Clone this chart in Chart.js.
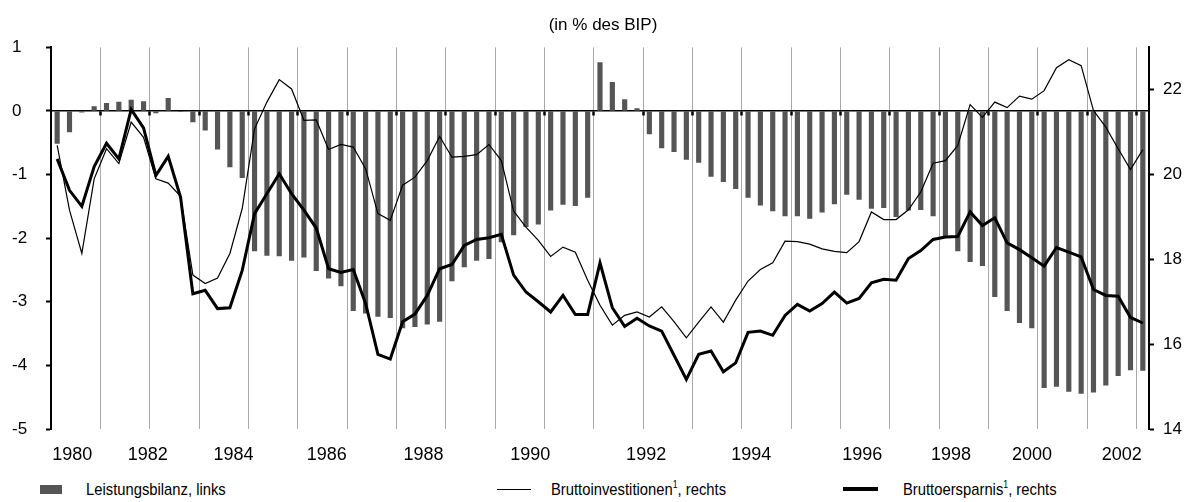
<!DOCTYPE html>
<html>
<head>
<meta charset="utf-8">
<script src="https://cdn.jsdelivr.net/npm/chart.js@4.4.1/dist/chart.umd.min.js"></script>
<style>
  body { margin: 0; background: #fff; font-family: "Liberation Sans", Arial, Helvetica, sans-serif; }
  #wrap { position: relative; width: 1194px; height: 502px; }
  #chartBilanz { position: absolute; left: 0; top: 0; }
  .lg { position: absolute; font-family: "Liberation Sans", Arial, sans-serif; font-size: 17px; color: #000; line-height: 20px; white-space: nowrap; transform: scaleX(0.87); transform-origin: left center; }
  .lg sup { font-size: 10px; line-height: 0; }
  .sw { position: absolute; }
</style>
</head>
<body>
<div id="wrap">
  <canvas id="chartBilanz" width="1194" height="470"></canvas>
  <div class="sw" style="left:40px; top:485px; width:22px; height:9px; background:#555;"></div>
  <div class="lg" style="left:86px; top:480px;">Leistungsbilanz, links</div>
  <div class="sw" style="left:497px; top:489px; width:34px; height:1.3px; background:#000;"></div>
  <div class="lg" style="left:551px; top:480px;">Bruttoinvestitionen<sup>1</sup>, rechts</div>
  <div class="sw" style="left:843px; top:487px; width:35px; height:4px; background:#000;"></div>
  <div class="lg" style="left:903px; top:480px;">Bruttoersparnis<sup>1</sup>, rechts</div>
</div>
<script>
// Quartalswerte 1980 Q1 - 2002 Q1
const startYear = 1980;

// Leistungsbilanz (% des BIP), linke Achse
const leistungsbilanz = [
  -0.51, -0.33, -0.02, 0.07,
  0.12, 0.14, 0.17, 0.15,
  -0.03, 0.20, -0.01, -0.17,
  -0.30, -0.60, -0.88, -1.05,
  -2.20, -2.27, -2.28, -2.35,
  -2.30, -2.51, -2.63, -2.75,
  -3.14, -3.18, -3.23, -3.25,
  -3.41, -3.39, -3.35, -3.31,
  -2.67, -2.45, -2.35, -2.32,
  -2.06, -1.95, -1.82, -1.78,
  -1.56, -1.47, -1.49, -1.36,
  0.76, 0.45, 0.18, 0.04,
  -0.36, -0.58, -0.64, -0.76,
  -0.81, -1.03, -1.11, -1.22,
  -1.36, -1.48, -1.57, -1.65,
  -1.65, -1.69, -1.59, -1.46,
  -1.31, -1.39, -1.53, -1.52,
  -1.66, -1.56, -1.55, -1.65,
  -1.98, -2.20, -2.37, -2.43,
  -2.92, -3.14, -3.33, -3.41,
  -4.35, -4.33, -4.41, -4.44,
  -4.42, -4.31, -4.16, -4.07,
  -4.08
];

// Bruttoinvestitionen (% des BIP), rechte Achse
const bruttoinvestitionen = [
  20.69, 19.16, 18.14, 19.90,
  20.61, 20.26, 21.24, 20.88,
  19.90, 19.80, 19.49, 17.63,
  17.43, 17.56, 18.14, 19.20,
  21.08, 21.71, 22.24, 22.02,
  21.28, 21.29, 20.59, 20.71,
  20.65, 20.14, 19.08, 18.92,
  19.75, 19.94, 20.33, 20.90,
  20.41, 20.43, 20.47, 20.71,
  20.33, 19.14, 18.76, 18.45,
  18.07, 18.29, 18.17, 17.51,
  16.92, 16.45, 16.68, 16.76,
  16.64, 16.88, 16.53, 16.15,
  16.52, 16.88, 16.52, 17.04,
  17.49, 17.76, 17.92, 18.43,
  18.42, 18.36, 18.25, 18.19,
  18.16, 18.42, 19.12, 18.94,
  18.94, 19.17, 19.59, 20.27,
  20.33, 20.69, 21.65, 21.35,
  21.71, 21.58, 21.85, 21.78,
  21.98, 22.52, 22.71, 22.57,
  21.51, 21.12, 20.61, 20.12,
  20.59
];

// Bruttoersparnis (% des BIP), rechte Achse
const bruttoersparnis = [
  20.37, 19.63, 19.25, 20.19,
  20.74, 20.37, 21.54, 21.10,
  19.98, 20.43, 19.47, 17.19,
  17.27, 16.84, 16.86, 17.74,
  19.08, 19.55, 20.02, 19.55,
  19.16, 18.74, 17.78, 17.69,
  17.76, 16.96, 15.76, 15.65,
  16.53, 16.71, 17.15, 17.78,
  17.88, 18.33, 18.47, 18.51,
  18.59, 17.63, 17.23, 17.00,
  16.76, 17.15, 16.70, 16.70,
  17.92, 16.86, 16.42, 16.61,
  16.43, 16.31, 15.74, 15.17,
  15.76, 15.84, 15.35, 15.56,
  16.28, 16.31, 16.21, 16.68,
  16.94, 16.78, 16.96, 17.23,
  16.97, 17.08, 17.45, 17.53,
  17.51, 18.02, 18.21, 18.47,
  18.53, 18.54, 19.12, 18.80,
  18.98, 18.39, 18.23, 18.04,
  17.84, 18.28, 18.17, 18.06,
  17.29, 17.15, 17.13, 16.63,
  16.50
];

// Achsenbeschriftung
const yearLabels = ['1980', '1982', '1984', '1986', '1988', '1990', '1992', '1994', '1996', '1998', '2000', '2002'];
const yearLabelPos = [1980.43, 1981.96, 1983.70, 1985.59, 1987.55, 1989.71, 1992.06, 1994.19, 1996.44, 1998.24, 1999.88, 2001.70];
const rightTicks = [14, 16, 18, 20, 22];

const gridYears = [];
for (let y = startYear + 1; y <= 2002; y++) gridYears.push(y);

function toPoints(arr) {
    return arr.map((v, i) => ({ x: startYear + (i + 0.5) / 4, y: v }));
}

const ctx = document.getElementById('chartBilanz').getContext('2d');
Chart.defaults.font.family = '"Liberation Sans", Arial, Helvetica, sans-serif';

new Chart(ctx, {
    type: 'bar',
    data: {
        datasets: [
            {
                type: 'line',
                label: 'Bruttoersparnis, rechts',
                data: toPoints(bruttoersparnis),
                yAxisID: 'y1',
                borderColor: '#000',
                borderWidth: 3,
                pointRadius: 0,
                tension: 0,
                order: 0
            },
            {
                type: 'line',
                label: 'Bruttoinvestitionen, rechts',
                data: toPoints(bruttoinvestitionen),
                yAxisID: 'y1',
                borderColor: '#000',
                borderWidth: 1.2,
                pointRadius: 0,
                tension: 0,
                order: 1
            },
            {
                label: 'Leistungsbilanz, links',
                data: toPoints(leistungsbilanz),
                yAxisID: 'y',
                backgroundColor: '#555',
                borderWidth: 0,
                barThickness: 4.5,
                order: 2
            }
        ]
    },
    options: {
        responsive: false,
        animation: false,
        devicePixelRatio: 1,
        layout: { padding: { left: 12, right: 0, top: 0, bottom: 0 } },
        plugins: {
            legend: { display: false },
            tooltip: { enabled: false },
            title: {
                display: true,
                text: '(in % des BIP)',
                color: '#000',
                font: { size: 17, weight: 'normal' },
                padding: { top: 15, bottom: 12 }
            }
        },
        scales: {
            x: {
                type: 'linear',
                position: { y: 0 },
                offset: false,
                min: startYear,
                max: 2002.25,
                afterBuildTicks: s => { s.ticks = gridYears.map(v => ({ value: v })); },
                ticks: { display: false },
                grid: { offset: false, color: '#a9a9a9', lineWidth: 1, tickLength: 4, tickColor: '#000', tickWidth: 2.5 },
                border: { display: true, color: '#000', width: 1.5 }
            },
            xLabels: {
                type: 'linear',
                position: 'bottom',
                offset: false,
                min: startYear,
                max: 2002.25,
                afterBuildTicks: s => { s.ticks = yearLabelPos.map(v => ({ value: v })); },
                afterFit: s => { s.height = 41; },
                ticks: {
                    autoSkip: false,
                    maxRotation: 0,
                    padding: 7,
                    color: '#000',
                    font: { size: 18 },
                    callback: (v, i) => yearLabels[i]
                },
                grid: { display: false },
                border: { display: false }
            },
            y: {
                position: 'left',
                min: -5,
                max: 1,
                afterFit: s => { s.width = 39; },
                ticks: { stepSize: 1, crossAlign: 'far', color: '#000', font: { size: 17 } },
                grid: { drawOnChartArea: false, tickLength: 5, tickColor: '#000', tickWidth: 2 },
                border: { color: '#000', width: 2 }
            },
            y1: {
                position: 'right',
                min: 14,
                max: 23,
                afterBuildTicks: s => { s.ticks = rightTicks.map(v => ({ value: v })); },
                afterFit: s => { s.width = 45; },
                ticks: { padding: 9, color: '#000', font: { size: 17 } },
                grid: { drawOnChartArea: false, tickLength: 5, tickColor: '#000', tickWidth: 2 },
                border: { color: '#000', width: 2 }
            }
        }
    }
});
</script>
</body>
</html>
